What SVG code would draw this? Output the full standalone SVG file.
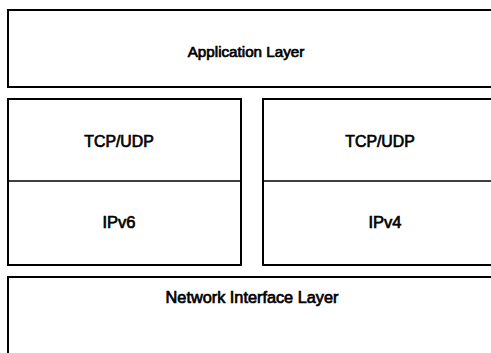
<svg xmlns="http://www.w3.org/2000/svg" width="491" height="353" viewBox="0 0 491 353">
  <style>
    .box { fill: #ffffff; stroke: #000000; stroke-width: 2; }
    .div { stroke: #000000; stroke-width: 1.5; }
    .lbl { font-family: "Liberation Sans", Arial, sans-serif; fill: #000000; stroke: #000000; stroke-width: 0.7; text-anchor: middle; }
  </style>
  <rect x="0" y="0" width="491" height="353" fill="#ffffff"/>
  <g id="application-layer">
    <rect class="box" x="8" y="10" width="500" height="77"/>
    <text class="lbl" x="246" y="57" font-size="15.2">Application Layer</text>
  </g>
  <g id="stack-ipv6">
    <rect class="box" x="8" y="99" width="233" height="166"/>
    <line class="div" x1="8" y1="181" x2="241" y2="181"/>
    <text id="tcp-udp-left" class="lbl" x="119" y="147" font-size="15.8">TCP/UDP</text>
    <text id="ipv6" class="lbl" x="119" y="228" font-size="16.5">IPv6</text>
  </g>
  <g id="stack-ipv4">
    <rect class="box" x="263" y="99" width="234" height="166"/>
    <line class="div" x1="263" y1="181" x2="497" y2="181"/>
    <text id="tcp-udp-right" class="lbl" x="380" y="147" font-size="15.8">TCP/UDP</text>
    <text id="ipv4" class="lbl" x="385" y="228" font-size="16.5">IPv4</text>
  </g>
  <g id="network-interface-layer">
    <rect class="box" x="8" y="277" width="500" height="100"/>
    <text class="lbl" x="252" y="303" font-size="16.3">Network Interface Layer</text>
  </g>
  <g id="connectors"/>
</svg>
